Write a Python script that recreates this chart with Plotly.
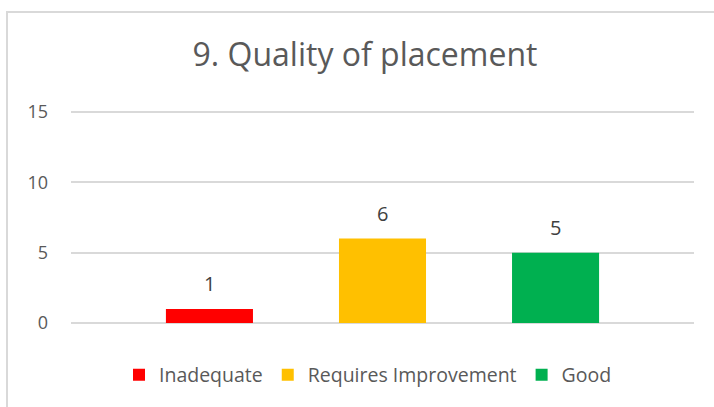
import plotly.graph_objects as go

categories = ["Inadequate", "Requires Improvement", "Good"]
values = [1, 6, 5]
colors = ["#FF0000", "#FFC000", "#00B050"]
y_ticks = [0, 5, 10, 15]

W, H = 714, 407
L, R, T, B = 71, 20, 110, 82
pw, ph = W - L - R, H - T - B

fig = go.Figure()
for name, v, c in zip(categories, values, colors):
    fig.add_trace(go.Bar(
        x=[name], y=[v], name=name, width=0.503,
        marker=dict(color=c, line=dict(width=0)),
    ))
    fig.add_annotation(x=name, y=v, text=str(v), showarrow=False,
                       yanchor="bottom", yshift=10,
                       font=dict(family="Open Sans", size=20, color="#404040"))

fig.update_layout(
    width=W, height=H,
    margin=dict(l=L, r=R, t=T, b=B),
    paper_bgcolor="white", plot_bgcolor="white",
    barmode="overlay",
    title=dict(text="9. Quality of placement", x=365 / W, xanchor="center",
               y=1 - 55 / H, yanchor="middle",
               font=dict(family="Open Sans", size=32, color="#595959")),
    xaxis=dict(type="category", categoryorder="array", categoryarray=categories,
               showticklabels=False, showgrid=False, zeroline=False,
               showline=False, range=[-0.8, 2.8]),
    yaxis=dict(range=[-0.14, 15.14], tickvals=y_ticks, showgrid=True, gridcolor="#D9D9D9", gridwidth=1.5,
               zeroline=False, showline=False, ticks="", ticklabelstandoff=22,
               tickfont=dict(family="Open Sans", size=18, color="#595959")),
    legend=dict(orientation="h", x=368 / W, xanchor="center", xref="container",
                y=1 - 375 / H, yref="container", yanchor="middle",
                font=dict(family="Open Sans", size=19.5, color="#595959"),
                traceorder="normal", itemwidth=30),
    showlegend=True,
    shapes=[dict(type="rect", xref="paper", yref="paper",
                 x0=(7 - L) / pw, x1=(W + 10 - L) / pw,
                 y0=-(H + 10 - T - ph) / ph, y1=1 + (T - 12) / ph,
                 line=dict(color="#D9D9D9", width=2), fillcolor="rgba(0,0,0,0)", layer="below")],
)

fig.write_html("out.html", config={"displayModeBar": False},
               post_script="document.body.style.margin='0';")
